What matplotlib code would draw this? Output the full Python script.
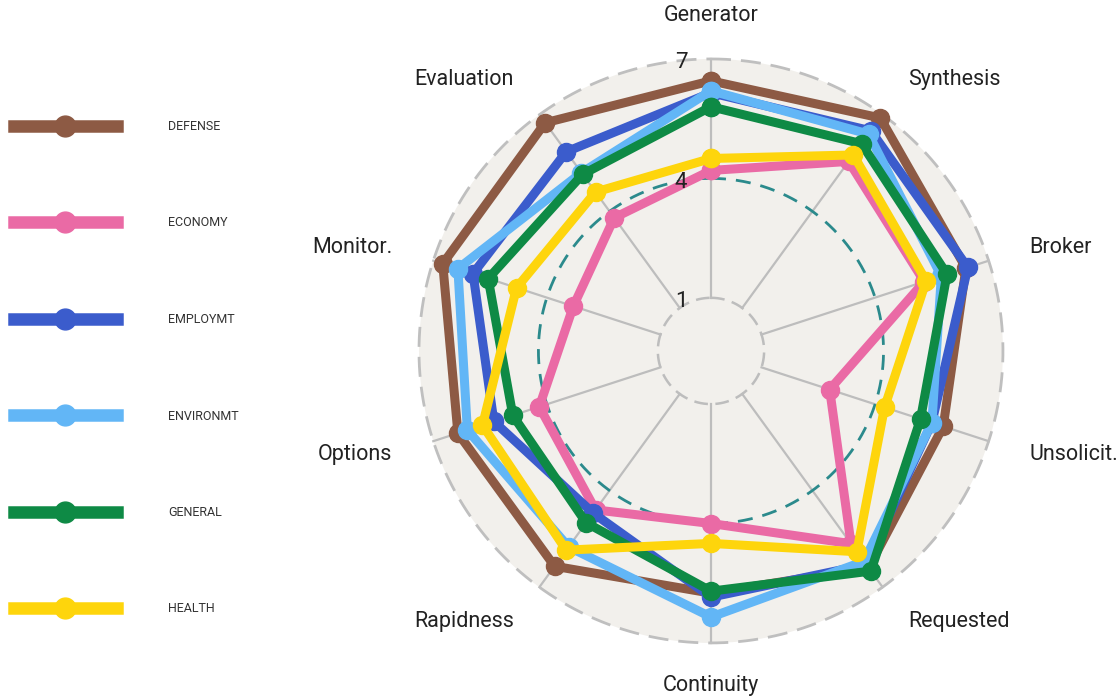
import numpy as np
import matplotlib.pyplot as plt
from matplotlib.lines import Line2D
from matplotlib.patches import Circle

plt.rcParams['font.family'] = ['Roboto', 'DejaVu Sans']

# spokes, clockwise from the top
axis_names = ['Generator', 'Synthesis', 'Broker', 'Unsolicit.', 'Requested',
              'Continuity', 'Rapidness', 'Options', 'Monitor.', 'Evaluation']

series_names = ['DEFENSE', 'ECONOMY', 'EMPLOYMT', 'ENVIRONMT', 'GENERAL', 'HEALTH']
defense   = [6.45, 6.9, 6.4, 5.8, 6.4, 5.75, 6.35, 6.35, 6.75, 6.75]
economy   = [4.2, 5.55, 5.3, 2.8, 5.65, 4.0, 4.6, 4.2, 3.3, 3.8]
employmt  = [6.15, 6.5, 6.45, 5.5, 6.3, 5.85, 4.7, 5.4, 5.95, 5.85]
environmt = [6.2, 6.4, 5.75, 5.5, 6.2, 6.35, 5.75, 6.1, 6.35, 5.2]
general   = [5.8, 6.1, 5.9, 5.2, 6.5, 5.7, 5.0, 4.9, 5.55, 5.15]
health    = [4.5, 5.75, 5.35, 4.25, 5.9, 4.5, 5.85, 5.7, 4.8, 4.6]
series_values = [defense, economy, employmt, environmt, general, health]
colors = ['#8d5a44', '#ea6aa5', '#3b5ccc', '#62b6f6', '#0e8a45', '#fed50c']

tick_values = [1, 4, 7]
tick_labels = ['1', '4', '7']

r_min, r_max, r_org = 1, 7, -0.335
R_PX = 292.0


def px_to_r(px):
    return r_org + px / R_PX * (r_max - r_org)


fig = plt.figure(figsize=(11.2, 7), dpi=100)
ax = fig.add_axes([0.3741, 0.0815, 0.5214, 0.8343], projection='polar')
ax.set_theta_zero_location('N')
ax.set_theta_direction(-1)
ax.set_ylim(r_min, r_max)
ax.set_rorigin(r_org)
ax.axis('off')

bg = Circle((0.5, 0.5), 0.5, transform=ax.transAxes, facecolor='#f2f0ec',
            edgecolor='none', zorder=0, clip_on=False)
ax.add_artist(bg)

theta = np.arange(len(axis_names)) * 2 * np.pi / len(axis_names)
tt = np.linspace(0, 2 * np.pi, 500)

for t in theta:
    ax.plot([t, t], [r_min, r_max], color='#bdbdbd', lw=1.6, zorder=1, clip_on=False)

ax.plot(tt, np.full_like(tt, 7), color='#bfbfbf', lw=2, dashes=(7.2, 3.6), zorder=1, clip_on=False)
ax.plot(tt, np.full_like(tt, 1), color='#bdbdbd', lw=1.8, dashes=(5.5, 3), zorder=1, clip_on=False)
ax.plot(tt, np.full_like(tt, 4), color='#2b8a8c', lw=2, dashes=(5.4, 3.6), zorder=2, clip_on=False)

closed = np.append(theta, theta[0])
for i, (name, vals) in enumerate(zip(series_names, series_values)):
    ax.plot(closed, vals + vals[:1], color=colors[i], lw=6.5, marker='o', ms=13,
            label=name, zorder=3 + i, clip_on=False)

# axis labels: anchored on the side facing the chart, 335 px from centre
for i, name in enumerate(axis_names):
    s = np.sin(theta[i])
    ha = 'center' if abs(s) < 1e-6 else ('left' if s > 0 else 'right')
    ax.text(theta[i], px_to_r(335), name, ha=ha, va='center',
            fontsize=15.5, color='#222222')

for v, lab in zip(tick_values, tick_labels):
    ax.annotate(lab, xy=(0, v), xytext=(-30, -4), textcoords='offset pixels',
                ha='center', va='center', fontsize=16, color='#222222', zorder=10)

handles = [Line2D([], [], color=c, lw=9, marker='o', ms=15) for c in colors]
fig.legend(handles, series_names, loc='upper left', bbox_to_anchor=(0.007, 0.8375),
           frameon=False, fontsize=9, handlelength=8.2, handletextpad=4.15,
           labelspacing=6.68, borderpad=0, labelcolor='#333333')

fig.savefig('out.png', dpi=100)
